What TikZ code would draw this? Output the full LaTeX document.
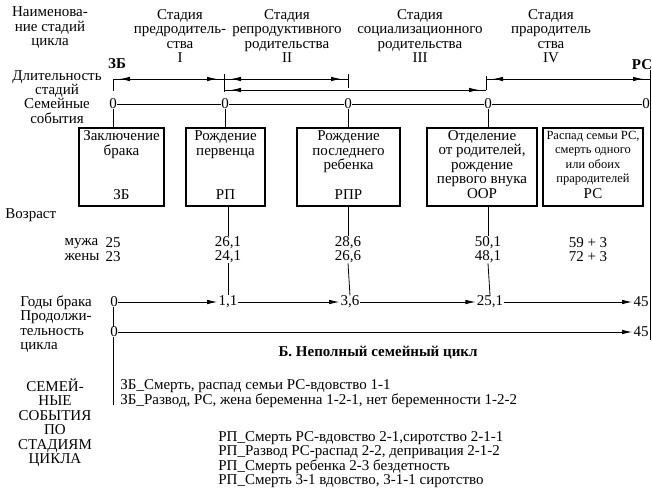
\documentclass[tikz,border=0pt]{standalone}
\usepackage{fontspec}
\setmainfont{Liberation Serif}
\usetikzlibrary{arrows.meta}

\begin{document}
\begin{tikzpicture}[x=1pt,y=-1pt,line width=0.8pt,
  txt/.style={align=center,font=\fontsize{15}{14.5}\selectfont},
  ltxt/.style={align=left,font=\fontsize{15}{14.5}\selectfont},
  stxt/.style={align=center,font=\fontsize{12.5}{14.5}\selectfont},
  evbox/.style={draw,line width=1.6pt,minimum height=78pt},
  arr/.style={-{Latex[length=10pt,width=4.5pt]},shorten >=1pt},
  durarr/.style={{Latex[length=10pt,width=4.5pt]}-{Latex[length=10pt,width=4.5pt]},shorten <=7pt,shorten >=7pt}]
            \tikzstyle{every node}+=[inner sep=0pt]
            \useasboundingbox (0,0) rectangle (652,492);
            \draw (50,28) node[txt] (hname) {Наименова-\\ние стадий\\цикла};
            \draw (180,36) node[txt] (st1) {Стадия\\предродитель-\\ства\\I};
            \draw (287,36) node[txt] (st2) {Стадия\\репродуктивного\\родительства\\II};
            \draw (420,36) node[txt] (st3) {Стадия\\социализационного\\родительства\\III};
            \draw (551,36) node[txt] (st4) {Стадия\\прародитель\\ства\\IV};
            \draw (117,64) node[txt] (zb) {\bfseries ЗБ};
            \draw (642,65) node[txt] (rs) {\bfseries РС};
            \draw (57,84) node[txt] (hdur) {Длительность\\стадий};
            \draw (57,111) node[txt] (hev) {Семейные\\события};
            \coordinate (d0) at (113,79);
            \coordinate (d0b) at (113,91);
            \coordinate (d1) at (224,79);
            \coordinate (d1t) at (224,74);
            \coordinate (d1b) at (224,92);
            \coordinate (d2) at (348,79);
            \coordinate (d2t) at (348,74);
            \coordinate (d2b) at (348,88);
            \coordinate (d3) at (486,90);
            \coordinate (d3t) at (486,76);
            \coordinate (d4) at (650,79);
            \coordinate (d4t) at (650,70);
            \coordinate (d4b) at (650,340);
            \draw (d0b) -- (d0) -- (d1);
            \draw[durarr] (d0) -- (d1);
            \draw (d1t) -- (d1b);
            \draw (d1) -- (d2);
            \draw[durarr] (d1) -- (d2);
            \draw (d2t) -- (d2b);
            \draw (d1 |- d3) -- (d3);
            \draw[durarr] (d1 |- d3) -- (d3);
            \draw (d3t) -- (d3);
            \draw (d3 |- d4) -- (d4);
            \draw[durarr] (d3 |- d4) -- (d4);
            \draw (d4t) -- (d4b);
            \draw (113,104) node[txt] (e0) {0};
            \draw (225,104) node[txt] (e1) {0};
            \draw (348,104) node[txt] (e2) {0};
            \draw (488,104) node[txt] (e3) {0};
            \draw (646,104) node[txt] (e4) {0};
            \draw (e0) -- (e1);
            \draw (e1) -- (e2);
            \draw (e2) -- (e3);
            \draw (e3) -- (e4);
            \draw (121.5,167) node[evbox,minimum width=85pt] (b1) {};
            \draw (225.5,167) node[evbox,minimum width=79pt] (b2) {};
            \draw (348.5,167) node[evbox,minimum width=103pt] (b3) {};
            \draw (482,167) node[evbox,minimum width=110pt] (b4) {};
            \draw (593,167) node[evbox,minimum width=100pt] (b5) {};
            \draw (e0) -- (e0 |- b1.north);
            \draw (e1) -- (e1 |- b2.north);
            \draw (e2) -- (e2 |- b3.north);
            \draw (e3) -- (e3 |- b4.north);
            \draw (121.5,144.5) node[txt] (b1t) {Заключение\\брака};
            \draw (121.5,195) node[txt] (b1a) {ЗБ};
            \draw (225.5,144.5) node[txt] (b2t) {Рождение\\первенца};
            \draw (225.5,195) node[txt] (b2a) {РП};
            \draw (348.5,152) node[txt] (b3t) {Рождение\\последнего\\ребенка};
            \draw (348.5,195) node[txt] (b3a) {РПР};
            \draw (482,158.5) node[txt] (b4t) {Отделение\\от родителей,\\рождение\\первого внука};
            \draw (482,194) node[txt] (b4a) {ООР};
            \draw (593,158) node[stxt] (b5t) {Распад семьи РС,\\смерть одного\\или обоих\\прародителей};
            \draw (593,194) node[txt] (b5a) {РС};
            \draw (5,215) node[ltxt,anchor=west] (hage) {Возраст};
            \draw (82,249.5) node[ltxt] (agelab) {мужа\\жены};
            \draw (113,249.5) node[txt] (a0) {25\\23};
            \draw (228,249.5) node[txt] (a1) {26,1\\24,1};
            \draw (348,249.5) node[txt] (a2) {28,6\\26,6};
            \draw (488,249.5) node[txt] (a3) {50,1\\48,1};
            \draw (588,249.5) node[txt] (a4) {59 + 3\\72 + 3};
            \draw (20,324) node[ltxt,anchor=west] (hyears) {Годы брака\\Продолжи-\\тельность\\цикла};
            \draw (114,302) node[txt] (y0) {0};
            \draw (228,302) node[txt] (y1) {1,1};
            \draw (350,302) node[txt] (y2) {3,6};
            \draw (490,302) node[txt] (y3) {25,1};
            \draw (641,302) node[txt] (y4) {45};
            \draw (114,332) node[txt] (z0) {0};
            \draw (641,332) node[txt] (z1) {45};
            \draw (a1.north) -- (a1.north |- b2.south);
            \draw (a2.north) -- (a2.north |- b3.south);
            \draw (a3.north) -- (a3.north |- b4.south);
            \draw (a1.south) -- (y1.north);
            \draw (a2.south) -- (y2.north);
            \draw (a3.south) -- (y3.north);
            \draw[arr] (y0) -- (y1);
            \draw[arr] (y1) -- (y2);
            \draw[arr] (y2) -- (y3);
            \draw[arr] (y3) -- (y4);
            \draw[arr] (z0) -- (z1);
            \coordinate (zend) at (113,405);
            \draw (y0.south -| zend) -- (z0.north -| zend);
            \draw (z0.south -| zend) -- (zend);
            \draw (378,353) node[txt] (title) {\bfseries Б. Неполный семейный цикл};
            \draw (55,422.5) node[txt] (hstages) {СЕМЕЙ-\\НЫЕ\\СОБЫТИЯ\\ПО\\СТАДИЯМ\\ЦИКЛА};
            \draw (120,393.5) node[ltxt,anchor=west] (ev1) {ЗБ\_Смерть, распад семьи РС-вдовство 1-1\\ЗБ\_Развод, РС, жена беременна 1-2-1, нет беременности 1-2-2};
            \draw (218,459.5) node[ltxt,anchor=west] (ev2) {РП\_Смерть РС-вдовство 2-1,сиротство 2-1-1\\РП\_Развод РС-распад 2-2, депривация 2-1-2\\РП\_Смерть ребенка 2-3 бездетность\\РП\_Смерть 3-1 вдовство, 3-1-1 сиротство};
        \end{tikzpicture}
\end{document}
